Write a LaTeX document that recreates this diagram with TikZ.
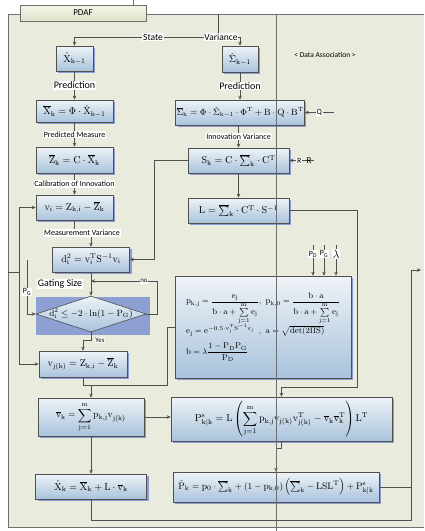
\documentclass[tikz,border=0pt]{standalone}
\usepackage{amsmath,amssymb}
\usepackage{fontspec}
\newfontfamily\lblfont{Carlito}
\usepackage{tikz}
\usetikzlibrary{
	arrows.meta,
	shapes.geometric,
	shadows,
	positioning
}

\definecolor{framebg}{HTML}{E9EBDC}
\definecolor{framegray}{HTML}{6E6E6E}
\definecolor{linegray}{HTML}{505050}
\definecolor{boxtop}{HTML}{EEF3F7}
\definecolor{boxbot}{HTML}{A9C3DC}
\definecolor{shadowblue}{HTML}{8C9BD6}
\definecolor{gateblue}{HTML}{8E9FD3}
\definecolor{tabtop}{HTML}{F4F6E8}
\definecolor{tabbot}{HTML}{DCE2C8}

\newcommand{\mr}[1]{\mathrm{#1}}

\begin{document}
\begin{tikzpicture}[x=1pt,y=-1pt,
	eqbox/.style={draw=linegray, line width=0.6pt, top color=boxtop, bottom color=boxbot,
		drop shadow={shadow xshift=2pt, shadow yshift=-2pt, fill=shadowblue, opacity=1},
		inner sep=1pt, font=\fontsize{10}{12}\selectfont},
	lbl/.style={fill=white, inner sep=0.8pt, font=\lblfont\fontsize{8}{9}\selectfont},
	biglbl/.style={lbl, font=\lblfont\fontsize{10}{11}\selectfont},
	flow/.style={draw=linegray, line width=0.7pt, -{Stealth[length=4pt,width=3.5pt]}},
	wire/.style={draw=linegray, line width=0.7pt}]

	\useasboundingbox (0,0) rectangle (424,531);

	% frame
	\fill[framebg] (8,14) rectangle (424,527);
	\draw[framegray, line width=0.8pt] (424,14) -- (8,14) -- (8,527) -- (424,527);
	\draw[framegray, line width=0.6pt] (133,0) -- (133,5);
	\node (tab) [draw=framegray, top color=tabtop, bottom color=tabbot, minimum width=126, minimum height=16,
		inner sep=0pt, font=\lblfont\fontsize{9}{10}\selectfont] at (83,13) {PDAF};
	\node (assoc) [font=\lblfont\fontsize{7.5}{8}\selectfont] at (325,55) {< Data Association >};

	% state and variance
	\node (xprev) [eqbox, minimum width=37, minimum height=25] at (74.5,58.5) {$\hat{\mr{X}}_{\mr{k-1}}$};
	\node (sprev) [eqbox, minimum width=36, minimum height=26] at (240,59) {$\hat{\Sigma}_{\mr{k-1}}$};
	\coordinate (src) at (218,14);
	\coordinate (split) at (218,37);
	\draw[wire] (src) -- (split);
	\draw[flow] (split) -| (xprev.north);
	\draw[flow] (split) -| (sprev.north);
	\node[biglbl, font=\lblfont\fontsize{9.5}{10}\selectfont] at (153,37) {State};
	\node[biglbl, font=\lblfont\fontsize{9.5}{10}\selectfont] at (221,37) {Variance};

	% left column
	\node (xpred) [eqbox, minimum width=77, minimum height=22] at (74.5,111) {$\overline{\mr{X}}_{\mr{k}}=\Phi\cdot\hat{\mr{X}}_{\mr{k-1}}$};
	\node (zpred) [eqbox, minimum width=77, minimum height=26] at (74.5,160) {$\overline{\mr{Z}}_{\mr{k}}=\mr{C}\cdot\overline{\mr{X}}_{\mr{k}}$};
	\node (vi) [eqbox, minimum width=77, minimum height=25] at (74.5,207.5) {$\mr{v}_{\mr{i}}=\mr{Z}_{\mr{k,i}}-\overline{\mr{Z}}_{\mr{k}}$};
	\node (dist) [eqbox, minimum width=77, minimum height=25] at (91,259.5) {$\mr{d}_{\mr{i}}^{2}=\mr{v}_{\mr{i}}^{\mr{T}}\mr{S}^{-1}\mr{v}_{\mr{i}}$};

	\fill[gateblue] (36,297) rectangle (150,335);
	\node (gate) [diamond, draw=linegray, line width=0.6pt, top color=boxtop, bottom color=boxbot, inner sep=0pt,
		minimum width=110, minimum height=36,
		label={[font=\fontsize{9}{10}\selectfont]center:$\mr{d}_{\mr{i}}^{2}\le-2\cdot\ln(1-\mr{P}_{\mr{G}})$}] at (91,314) {};

	\node (vjk) [eqbox, minimum width=88, minimum height=26] at (83,364) {$\mr{v}_{\mr{j(k)}}=\mr{Z}_{\mr{k,i}}-\overline{\mr{Z}}_{\mr{k}}$};
	\node (vbar) [eqbox, minimum width=106, minimum height=38, font=\fontsize{9.5}{11}\selectfont] at (91,417) {$\displaystyle\overline{\mr{v}}_{\mr{k}}=\sum_{\mr{j=1}}^{\mr{m}}\mr{p}_{\mr{k,j}}\mr{v}_{\mr{j(k)}}$};
	\node (xhat) [eqbox, minimum width=111, minimum height=25] at (91,486.5) {$\hat{\mr{X}}_{\mr{k}}=\overline{\mr{X}}_{\mr{k}}+\mr{L}\cdot\overline{\mr{v}}_{\mr{k}}$};

	% right column
	\node (spred) [eqbox, minimum width=116, minimum height=25, font=\fontsize{9}{11}\selectfont] at (240,112.5) {$\overline{\Sigma}_{\mr{k}}=\Phi\cdot\hat{\Sigma}_{\mr{k-1}}\cdot\Phi^{\mr{T}}+\mr{B}\cdot\mr{Q}\cdot\mr{B}^{\mr{T}}$};
	\node (sk) [eqbox, minimum width=101, minimum height=25] at (238.5,160.5) {$\mr{S}_{\mr{k}}=\mr{C}\cdot\overline{\textstyle\sum}_{\mr{k}}\cdot\mr{C}^{\mr{T}}$};
	\node (gain) [eqbox, minimum width=101, minimum height=25] at (238.5,210.5) {$\mr{L}=\overline{\textstyle\sum}_{\mr{k}}\cdot\mr{C}^{\mr{T}}\cdot\mr{S}^{-1}$};
	\node (prob) [eqbox, minimum width=176, minimum height=102, font=\fontsize{8.5}{10}\selectfont] at (263,327) {%
		\begin{tabular}{@{}l@{}l@{}}
		$\mr{p}_{\mr{k,j}}=\dfrac{\mr{e}_{\mr{j}}}{\mr{b}\cdot\mr{a}+\sum\limits_{\mr{j=1}}^{\mr{m}}\mr{e}_{\mr{j}}}$ &
		$,\ \mr{p}_{\mr{k,0}}=\dfrac{\mr{b}\cdot\mr{a}}{\mr{b}\cdot\mr{a}+\sum\limits_{\mr{j=1}}^{\mr{m}}\mr{e}_{\mr{j}}}$\\[6pt]
		$\mr{e}_{\mr{j}}=\mr{e}^{-0.5\cdot\mr{v}_{\mr{j}}^{\mr{T}}\mr{S}^{-1}\mr{v}_{\mr{j}}}$ &
		$,\ \mr{a}=\sqrt{\det(2\Pi\mr{S})}$\\[6pt]
		$\mr{b}=\lambda\dfrac{1-\mr{P}_{\mr{D}}\mr{P}_{\mr{G}}}{\mr{P}_{\mr{D}}}$ & \\
		\end{tabular}};
	\node (pks) [eqbox, minimum width=221, minimum height=44, font=\fontsize{10}{12}\selectfont] at (281.5,419) {$\displaystyle\mr{P}^{\mr{s}}_{\mr{k|k}}=\mr{L}\left(\sum_{\mr{j=1}}^{\mr{m}}\mr{p}_{\mr{k,j}}\mr{v}_{\mr{j(k)}}\mr{v}^{\mr{T}}_{\mr{j(k)}}-\overline{\mr{v}}_{\mr{k}}\overline{\mr{v}}^{\mr{T}}_{\mr{k}}\right)\mr{L}^{\mr{T}}$};
	\node (phat) [eqbox, minimum width=206, minimum height=30, font=\fontsize{9.5}{11}\selectfont] at (276,487) {$\hat{\mr{P}}_{\mr{k}}=\mr{p}_{0}\cdot\overline{\textstyle\sum}_{\mr{k}}+(1-\mr{p}_{\mr{k,0}})\left(\overline{\textstyle\sum}_{\mr{k}}-\mr{LSL}^{\mr{T}}\right)+\mr{P}^{\mr{s}}_{\mr{k|k}}$};

	% labelled steps
	\draw[flow] (xprev) -- (xpred) node[biglbl, midway] {Prediction};
	\draw[flow] (xpred) -- (zpred) node[lbl, midway] {Predicted Measure};
	\draw[flow] (zpred) -- (vi) node[lbl, midway] {Calibration of Innovation};
	\draw[flow] (vi.south) -- ++(0,13) -| (dist.north);
	\node[lbl] at (82,233) {Measurement Variance};
	\draw[flow] (sprev) -- (spred) node[biglbl, midway] {Prediction};
	\draw[flow] (spred.south -| sk.north) -- (sk.north) node[lbl, midway] {Innovation Variance};
	\draw[flow] (sk) -- (gain);

	% gating
	\draw[flow] (dist) -- (gate);
	\node (gatelbl) [biglbl] at (60,284) {Gating Size};
	\coordinate (nojoin) at (91,281);
	\draw[flow] (gate.east) -- (157,314) -- (157,281) -- (nojoin);
	\node[lbl, font=\lblfont\fontsize{7}{8}\selectfont] at (144,281) {no};
	\draw[flow] (gate.south) -- ++(0,8) -| (vjk.north);
	\node[lbl, font=\lblfont\fontsize{7}{8}\selectfont] at (100,340) {Yes};
	\coordinate (pgin) at (27,260);
	\draw[flow] (pgin) |- (gate.west);
	\node[lbl] at (27,292) {P\textsubscript{G}};

	% measurement loop
	\coordinate (loopin) at (8,272);
	\coordinate (loopsplit) at (19,272);
	\draw[wire] (loopin) -- (loopsplit);
	\draw[flow] (loopsplit) |- (vi.west);
	\draw[flow] (loopsplit) |- (vjk.west);

	% innovation covariance to distance
	\draw[flow] (sk.west) -- ++(-33,0) |- (dist.east);

	% noise inputs
	\coordinate (qin) at (334,112.5);
	\draw[flow] (qin) -- (spred.east) node[lbl, pos=0.5] {Q};
	\coordinate (rin) at (314,160.5);
	\draw[flow] (rin) -- (sk.east) node[lbl, pos=0.6] {R};
	\node[font=\lblfont\fontsize{9}{10}\selectfont, inner sep=0pt] at (309,160.5) {R};

	% detection parameters
	\foreach \x/\t/\n in {313/{P\textsubscript{D}}/pd, 324/{P\textsubscript{G}}/pgp, 336/{$\lambda$}/lam} {
		\node (\n) [lbl] at (\x,254) {\t};
		\draw[wire] (\x,245) -- (\n.north);
		\draw[flow] (\n.south) -- (\n.south |- prob.north);
	}
	\node[lbl, font=\fontsize{12}{12}\selectfont] at (lam) {$\lambda$};

	% association
	\coordinate (merge) at (91,385);
	\draw[wire] (vjk.south) |- (167,385) |- (prob.west);
	\draw[flow] (merge) -- (vbar.north);
	\draw[flow] (vbar.east) -- (vbar.east -| pks.west);
	\draw[flow] (vbar) -- (xhat);
	\draw[flow] (gain.east) -- (357,210.5) -- (357,387) -| (pks.north);
	\draw[flow] (pks.south) -- ++(0,7) -| (phat.north);

	% output
	\coordinate (out) at (421,270);
	\draw[flow] (xhat.south) -- ++(0,21.5) -| (411,270) -- (out);
	\draw[wire] (phat.east) -- (411,487);

	\draw[framegray, line width=0.6pt] (276,14) -- (276,531);

\end{tikzpicture}
\end{document}
